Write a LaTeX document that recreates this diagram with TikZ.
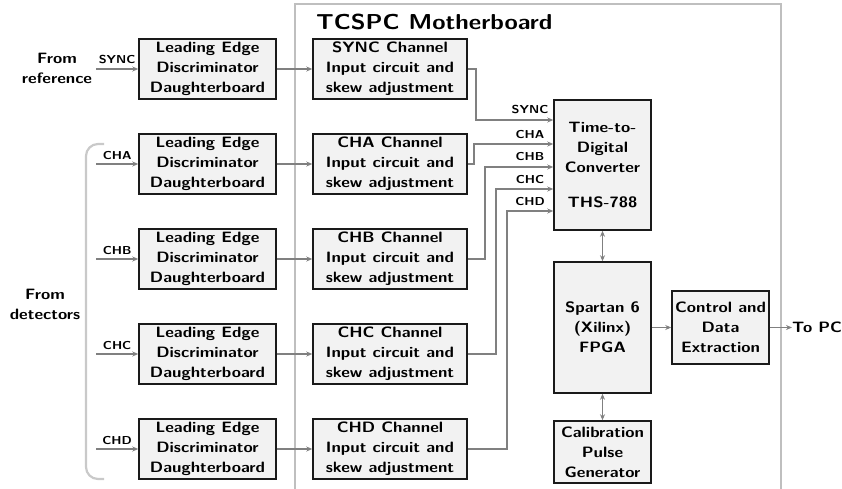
\documentclass[tikz,border=0pt]{standalone}
\usepackage{fontspec}
\setsansfont{lmsans10-regular.otf}[BoldFont=lmsans10-bold.otf, FakeStretch=1.12]
\usetikzlibrary{arrows.meta}
\definecolor{boxfill}{HTML}{F2F2F2}
\definecolor{boxline}{HTML}{1A1A1A}
\definecolor{wire}{HTML}{808080}
\definecolor{frameline}{HTML}{BFBFBF}
\begin{document}
\begin{tikzpicture}[x=1pt,y=-1pt,
  every node/.style={font=\sffamily\bfseries\fontsize{15}{20}\selectfont, align=center, inner sep=0pt},
  box/.style={draw=boxline, fill=boxfill, line width=1.5pt},
  arr/.style={draw=wire, line width=1.6pt, -{Stealth[length=6pt,width=5pt]}},
  darr/.style={draw=wire, line width=1.6pt, {Stealth[length=6pt,width=5pt]}-{Stealth[length=6pt,width=5pt]}},
  lbl/.style={font=\sffamily\bfseries\fontsize{11.5}{13}\selectfont},
  frame/.style={draw=frameline, line width=1.8pt},
  brace/.style={draw=frameline!85, line width=2.2pt, rounded corners=12pt},
  db/.style={box, minimum width=137pt, minimum height=60pt},
  ch/.style={box, minimum width=154pt, minimum height=60pt}]
\useasboundingbox (0,0) rectangle (842,488);

% motherboard outline, open at the bottom
\draw[frame] (295,495) -- (295,4) -- (781,4) -- (781,495);
\node[font=\sffamily\bfseries\fontsize{21.6}{26}\selectfont, anchor=west] (title) at (316,22) {TCSPC Motherboard};

% bracket grouping the detector inputs
\draw[brace] (104,144) -- (86,144) -- (86,479) -- (104,479);

\node (fref) at (57,68) {From\\reference};
\node (fdet) at (45,304) {From\\detectors};

% daughterboards
\node[db] (d0) at (207.5,69) {Leading Edge\\Discriminator\\Daughterboard};
\node[db] (d1) at (207.5,164) {Leading Edge\\Discriminator\\Daughterboard};
\node[db] (d2) at (207.5,259) {Leading Edge\\Discriminator\\Daughterboard};
\node[db] (d3) at (207.5,354) {Leading Edge\\Discriminator\\Daughterboard};
\node[db] (d4) at (207.5,449) {Leading Edge\\Discriminator\\Daughterboard};

% channel input circuits
\node[ch] (c0) at (390,69) {SYNC Channel\\Input circuit and\\skew adjustment};
\node[ch] (c1) at (390,164) {CHA Channel\\Input circuit and\\skew adjustment};
\node[ch] (c2) at (390,259) {CHB Channel\\Input circuit and\\skew adjustment};
\node[ch] (c3) at (390,354) {CHC Channel\\Input circuit and\\skew adjustment};
\node[ch] (c4) at (390,449) {CHD Channel\\Input circuit and\\skew adjustment};

% processing blocks
\node[box, minimum width=97pt, minimum height=130pt] (tdc) at (602.5,165) {Time-to-\\Digital\\Converter\\[15pt]THS-788};
\node[box, minimum width=97pt, minimum height=131pt] (fpga) at (602.5,327.5) {Spartan 6\\(Xilinx)\\FPGA};
\node[box, minimum width=97pt, minimum height=62pt] (cal) at (602.5,452) {Calibration\\Pulse\\Generator};
\node[box, minimum width=97pt, minimum height=73pt] (ctl) at (720.5,327.5) {Control and\\Data\\Extraction};
\node[anchor=west] (pc) at (792,327.5) {To PC};

% input signals
\coordinate (i0) at (96,69);
\coordinate (i1) at (96,164);
\coordinate (i2) at (96,259);
\coordinate (i3) at (96,354);
\coordinate (i4) at (96,449);
\draw[arr] (i0) -- node[lbl, above=4pt] (l0) {SYNC} (d0);
\draw[arr] (i1) -- node[lbl, above=4pt] (l1) {CHA} (d1);
\draw[arr] (i2) -- node[lbl, above=4pt] (l2) {CHB} (d2);
\draw[arr] (i3) -- node[lbl, above=4pt] (l3) {CHC} (d3);
\draw[arr] (i4) -- node[lbl, above=4pt] (l4) {CHD} (d4);

% daughterboard to channel
\draw[arr] (d0) -- (c0);
\draw[arr] (d1) -- (c1);
\draw[arr] (d2) -- (c2);
\draw[arr] (d3) -- (c3);
\draw[arr] (d4) -- (c4);

% channel outputs routed into the TDC
\coordinate (t0) at (tdc.west |- 0,120);
\coordinate (t1) at (tdc.west |- 0,144);
\coordinate (t2) at (tdc.west |- 0,167);
\coordinate (t3) at (tdc.west |- 0,189);
\coordinate (t4) at (tdc.west |- 0,211);
\draw[arr] (c0.east) -- (476,69) |- (t0);
\draw[arr] (c1.east) -- (474,164) |- (t1);
\draw[arr] (c2.east) -- (485,259) |- (t2);
\draw[arr] (c3.east) -- (496,354) |- (t3);
\draw[arr] (c4.east) -- (507,449) |- (t4);
\node[lbl, anchor=south] (r0) at (530,114) {SYNC};
\node[lbl, anchor=south] (r1) at (530,139) {CHA};
\node[lbl, anchor=south] (r2) at (530,161) {CHB};
\node[lbl, anchor=south] (r3) at (530,184) {CHC};
\node[lbl, anchor=south] (r4) at (530,206) {CHD};

% back end
\draw[darr] (tdc) -- (fpga);
\draw[darr] (fpga) -- (cal);
\draw[arr] (fpga) -- (ctl);
\draw[arr] (ctl) -- (pc);
\end{tikzpicture}
\end{document}
